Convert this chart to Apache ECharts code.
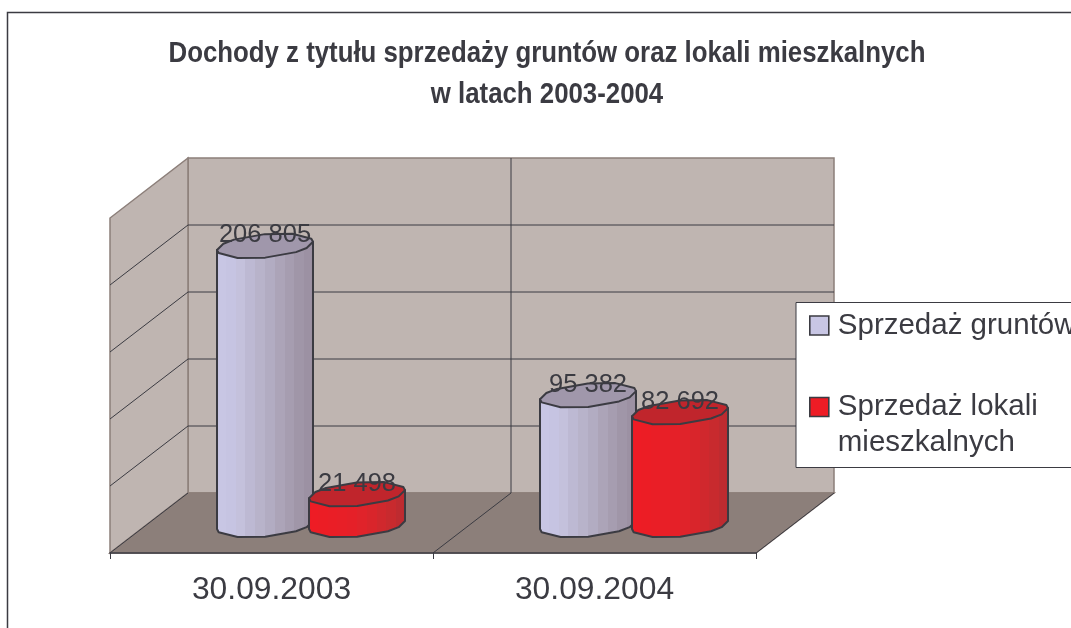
<!DOCTYPE html>
<html>
<head>
<meta charset="utf-8">
<title>Dochody z tytułu sprzedaży gruntów oraz lokali mieszkalnych</title>
<script src="https://cdn.jsdelivr.net/npm/echarts@6/dist/echarts.min.js"></script>
<style>
  html, body { margin: 0; padding: 0; background: #fff; overflow: hidden; }
  #chart { width: 1071px; height: 628px; }
</style>
</head>
<body>
<div id="chart"></div>
<script>
const categories = ["30.09.2003", "30.09.2004"];
const landSales = [206805, 95382];
const flatSales = [21498, 82692];
const valueTicks = [0, 50000, 100000, 150000, 200000, 250000];
const landName = "Sprzedaż gruntów";
const flatName = "Sprzedaż lokali mieszkalnych";
const chartTitle = "Dochody z tytułu sprzedaży gruntów oraz lokali mieszkalnych\nw latach 2003-2004";

const INK = "#3b3b42";
const WALL = "#bfb5b1";
const FLOOR = "#8c7f7a";
const DEPTH = [78, -60];      // how far the back wall sits behind the front plane
const MID_DEPTH = [39.5, -28];  // where the cylinders stand on the floor
const BAR_WIDTH = 96;
const BAR_SHIFT = 46;
const LID_LIFT = 2;
const FRONT_FACETS = [-161, -145, -105, -70, -30, -10, 19];
const BACK_FACETS = [35, 75, 110, 150, 170];

const landShades = ["#c8c6e4", "#c6c4e2", "#c4c1dc", "#bdb9d3", "#b8b3ca", "#b2acc2", "#aca4b8", "#a69db0", "#a096a8", "#9c91a3"];
const flatShades = ["#ee1c25", "#ec1d25", "#ea1e26", "#e81f27", "#e52028", "#e0232a", "#d9252b", "#d0282d", "#c82a2e", "#be2b30"];
const landTop = "#a097ab";
const flatTop = "#c0252c";

function hardStops(colors) {
  const stops = [];
  colors.forEach((c, i) => {
    stops.push({ offset: i / colors.length, color: c });
    stops.push({ offset: (i + 1) / colors.length, color: c });
  });
  return new echarts.graphic.LinearGradient(0, 0, 1, 0, stops);
}

function renderBackdrop(params, api) {
  const box = params.coordSys;
  const left = box.x, right = box.x + box.width;
  const yAt = (v) => api.coord([0, v])[1];
  const bottom = yAt(0), top = yAt(valueTicks[valueTicks.length - 1]);
  const mid = (left + right) / 2;
  const back = (x, y) => [x + DEPTH[0], y + DEPTH[1]];
  const poly = (points, fill) => ({
    type: "polygon",
    shape: { points },
    style: { fill, stroke: FLOOR, lineWidth: 1.5 }
  });
  const line = (a, b, color) => ({
    type: "line",
    shape: { x1: a[0], y1: a[1], x2: b[0], y2: b[1] },
    style: { stroke: color || INK, lineWidth: 1 }
  });

  const children = [
    poly([back(left, bottom), back(right, bottom), back(right, top), back(left, top)], WALL),
    poly([[left, bottom], back(left, bottom), back(left, top), [left, top]], WALL),
    poly([[left, bottom], [right, bottom], back(right, bottom), back(left, bottom)], FLOOR)
  ];
  valueTicks.slice(1, -1).forEach((v) => {
    children.push(line([left, yAt(v)], back(left, yAt(v))));
    children.push(line(back(left, yAt(v)), back(right, yAt(v))));
  });
  children.push(line(back(mid, top), back(mid, bottom)));
  children.push(line([mid, bottom], back(mid, bottom)));
  children.push(line([right, bottom], back(right, bottom)));
  children.push(line([left, bottom], back(left, bottom)));
  return { type: "group", children };
}

function cylinder(shades, topColor, shift) {
  return function (params, api) {
    const idx = api.value(0), val = api.value(1);
    const cx = api.coord([idx, 0])[0] + MID_DEPTH[0] + shift;
    const baseY = api.coord([idx, 0])[1] + MID_DEPTH[1];
    const topY = api.coord([idx, val])[1] + MID_DEPTH[1] - LID_LIFT;
    // circle lying in the floor plane, sheared along the depth direction
    const ry = 12.5;
    const skew = ry * DEPTH[0] / -DEPTH[1];
    const a = Math.sqrt(BAR_WIDTH * BAR_WIDTH / 4 - skew * skew);
    const rim = (deg, y) => {
      const t = deg * Math.PI / 180;
      return [cx + a * Math.cos(t) + skew * Math.sin(t), y - ry * Math.sin(t)];
    };
    const last = FRONT_FACETS[FRONT_FACETS.length - 1];
    const body = FRONT_FACETS.map((d) => rim(d, baseY)).concat([rim(last, topY), rim(FRONT_FACETS[0], topY)]);
    const lid = FRONT_FACETS.concat(BACK_FACETS).map((d) => rim(d, topY));
    const style = { stroke: INK, lineWidth: 2, lineJoin: "round" };
    return {
      type: "group",
      children: [
        { type: "polygon", shape: { points: body }, style: Object.assign({ fill: hardStops(shades) }, style) },
        { type: "polygon", shape: { points: lid }, style: Object.assign({ fill: topColor }, style) },
        {
          type: "text",
          style: {
            x: cx, y: topY - 10.5,
            text: String(val).replace(/\B(?=(\d{3})+$)/g, " "),
            fill: INK,
            font: "25.5px 'Liberation Sans'",
            align: "center",
            verticalAlign: "middle"
          }
        }
      ]
    };
  };
}

const chart = echarts.init(document.getElementById("chart"), null, { renderer: "canvas" });
chart.setOption({
  animation: false,
  backgroundColor: "#fff",
  grid: { left: 110, right: 315, top: 218, bottom: 75 },
  xAxis: {
    type: "category",
    data: categories,
    z: 5,
    axisLine: { lineStyle: { color: INK, width: 1.5 } },
    axisTick: { show: true, length: 6, lineStyle: { color: INK } },
    axisLabel: { fontFamily: "'Liberation Sans'", fontSize: 31.8, color: INK, margin: 21 }
  },
  yAxis: {
    type: "value",
    min: 0,
    max: 250000,
    interval: 50000,
    show: false
  },
  legend: {
    orient: "vertical",
    left: 809,
    top: 306.5,
    padding: 0,
    itemWidth: 19,
    itemHeight: 19,
    itemGap: 7.5,
    icon: "rect",
    itemStyle: { borderColor: INK, borderWidth: 1.6 },
    selectedMode: false,
    formatter: (name) => (name === flatName ? "\nSprzedaż lokali\nmieszkalnych" : name),
    textStyle: { fontFamily: "'Liberation Sans'", fontSize: 29.5, lineHeight: 36, color: INK, padding: [2, 0, 0, 4] },
    data: [landName, flatName]
  },
  graphic: [
    // frame of the chart and of the legend, both cut off by the picture edge
    { type: "rect", z: 0, silent: true, shape: { x: 7.5, y: 12.5, width: 1200, height: 800 }, style: { fill: "none", stroke: INK, lineWidth: 1.5 } },
    { type: "rect", z: 3, silent: true, shape: { x: 796, y: 302.5, width: 400, height: 165 }, style: { fill: "#fff", stroke: INK, lineWidth: 1 } },
    {
      type: "text", z: 3, silent: true, x: 547, y: 74, scaleX: 0.86, originX: 0,
      style: {
        text: chartTitle,
        fill: INK,
        font: "bold 30px 'Liberation Sans'",
        lineHeight: 41,
        align: "center",
        verticalAlign: "middle"
      }
    }
  ],
  series: [
    { type: "custom", silent: true, z: 1, renderItem: renderBackdrop, data: [[0, 0]], legendHoverLink: false },
    {
      type: "custom", name: landName, z: 2, itemStyle: { color: landShades[0] },
      renderItem: cylinder(landShades, landTop, -BAR_SHIFT),
      encode: { x: 0, y: 1 },
      data: landSales.map((v, i) => [i, v])
    },
    {
      type: "custom", name: flatName, z: 2, itemStyle: { color: flatShades[0] },
      renderItem: cylinder(flatShades, flatTop, BAR_SHIFT),
      encode: { x: 0, y: 1 },
      data: flatSales.map((v, i) => [i, v])
    }
  ]
});
</script>
</body>
</html>
